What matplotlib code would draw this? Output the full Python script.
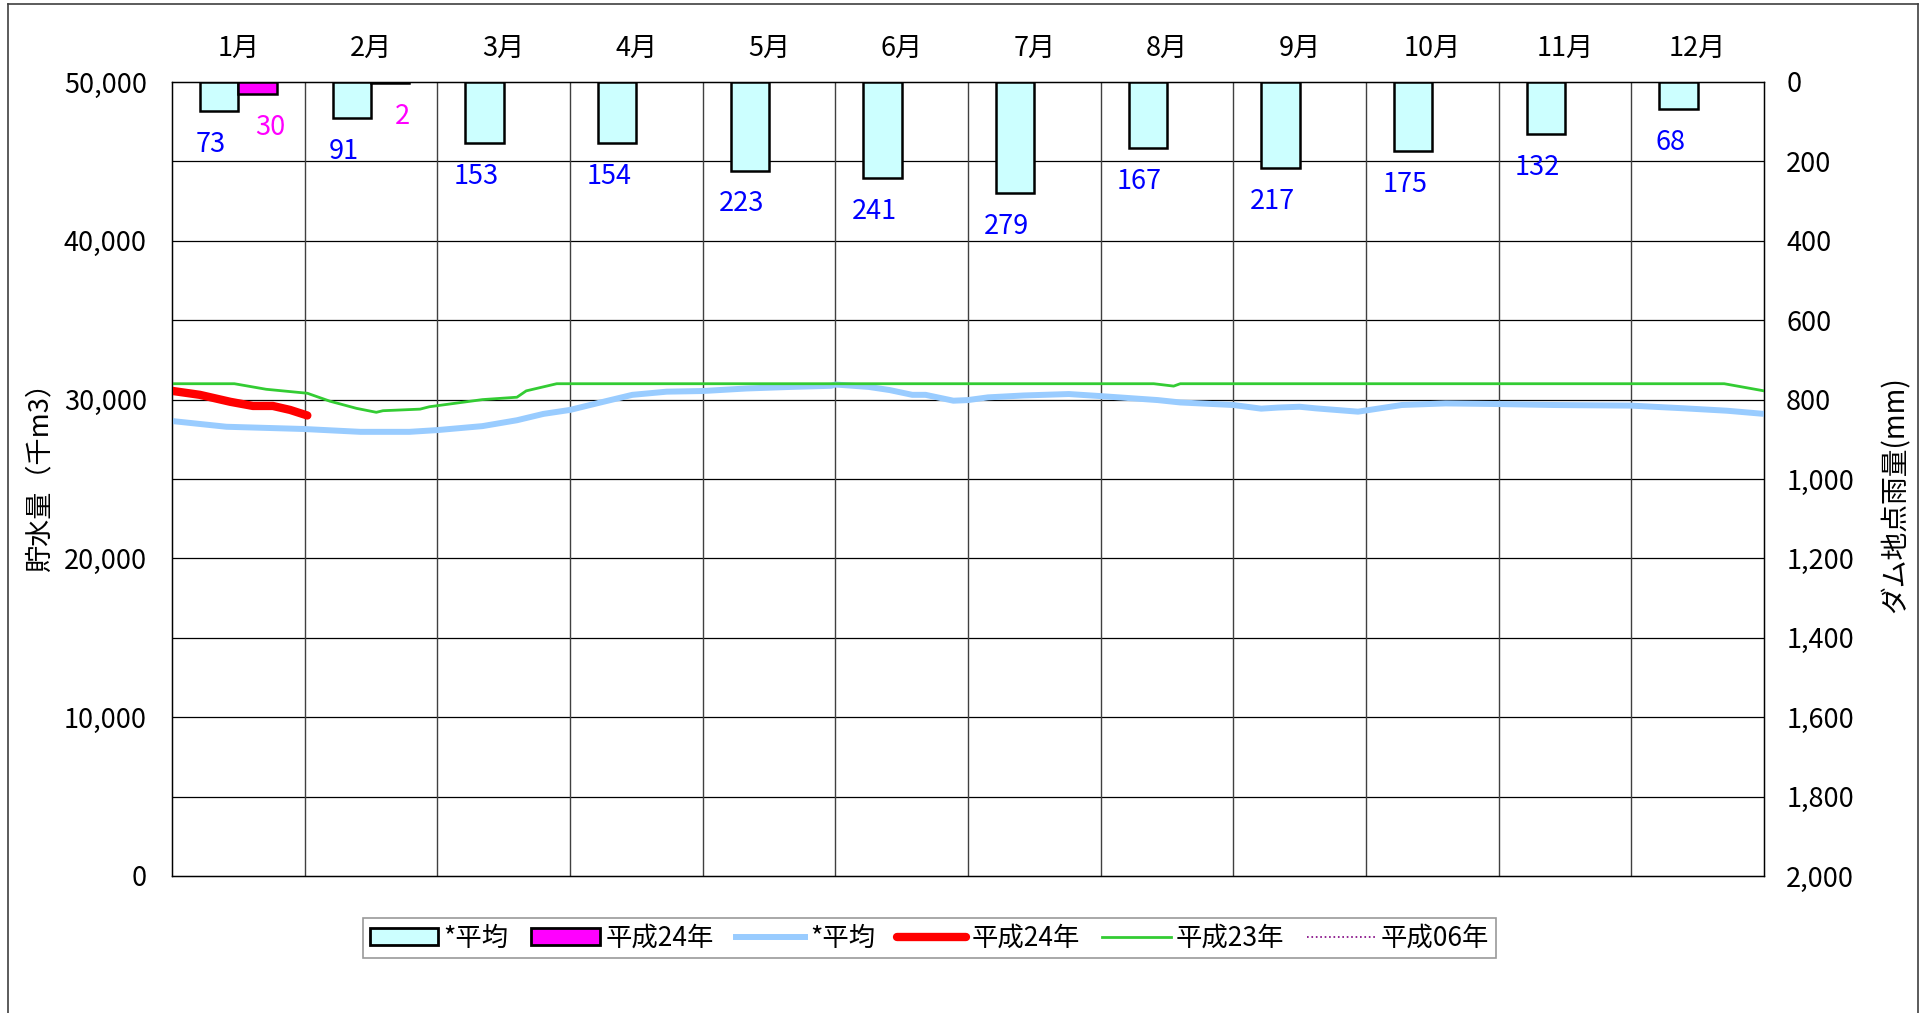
import matplotlib
matplotlib.use("Agg")
import matplotlib.pyplot as plt
from matplotlib.lines import Line2D
from matplotlib.patches import Patch
from matplotlib.ticker import FuncFormatter, MultipleLocator

plt.rcParams['font.family'] = ['Noto Sans CJK JP', 'DejaVu Sans']

# ---------------- data ----------------
months = ["1月", "2月", "3月", "4月", "5月", "6月", "7月", "8月", "9月", "10月", "11月", "12月"]
rain_avg = [73, 91, 153, 154, 223, 241, 279, 167, 217, 175, 132, 68]
rain_h24 = [30, 2]

# storage (thousand m3) ; x in month units (0 = Jan 1, 12 = Dec 31)
avg_x = [0.0, 0.41, 0.99, 1.42, 1.79, 2.0, 2.34, 2.6, 2.8, 3.0, 3.25, 3.47, 3.73, 4.0,
         4.33, 4.67, 4.97, 5.0, 5.25, 5.41, 5.58, 5.68, 5.89, 6.0, 6.15, 6.42, 6.76, 7.0,
         7.43, 7.6, 8.0, 8.21, 8.34, 8.5, 8.62, 8.94, 9.27, 9.6, 10.0, 10.41, 11.0, 11.4,
         11.72, 12.0]
avg_y = [28650, 28290, 28150, 27970, 27970, 28080, 28330, 28700, 29100, 29350, 29860, 30300,
         30500, 30540, 30700, 30800, 30870, 30950, 30800, 30600, 30300, 30300, 29930, 29970,
         30140, 30260, 30350, 30220, 29970, 29820, 29660, 29430, 29500, 29550, 29450, 29240,
         29660, 29760, 29720, 29660, 29620, 29450, 29300, 29100]

h23_x = [0.0, 0.47, 0.71, 1.02, 1.19, 1.39, 1.54, 1.59, 1.87, 1.94, 2.34, 2.6, 2.67, 2.9,
         7.4, 7.55, 7.6, 11.7, 12.0]
h23_y = [31000, 31000, 30650, 30400, 29900, 29450, 29200, 29300, 29400, 29550, 30000, 30150,
         30550, 31000, 31000, 30850, 31000, 31000, 30550]

h24_x = [0.0, 0.21, 0.44, 0.61, 0.76, 0.89, 1.02]
h24_y = [30550, 30300, 29860, 29600, 29600, 29350, 29000]

legend_labels = ["*平均", "平成24年", "*平均", "平成24年", "平成23年", "平成06年"]

FS = 19.5

# ---------------- figure ----------------
W, H = 1930, 1013
fig = plt.figure(figsize=(W / 100, H / 100), dpi=100)
L, R, T, B = 172, 1764, 82, 876
ax1 = fig.add_axes([L / W, 1 - B / H, (R - L) / W, (B - T) / H])
ax1.set_xlim(0, 12)
ax1.set_ylim(0, 50000)
ax1.set_xticks([])
ax1.yaxis.set_major_locator(MultipleLocator(10000))
ax1.yaxis.set_major_formatter(FuncFormatter(lambda v, p: f"{int(v):,}"))
ax1.tick_params(axis='y', length=0, pad=18, labelsize=FS)

for yv in range(5000, 50000, 5000):
    ax1.axhline(yv, color='black', lw=0.9, zorder=0.5)
for xv in range(1, 12):
    ax1.axvline(xv, color='#404040', lw=1.0, zorder=0.5)

ax1.plot(avg_x, avg_y, color='#99CCFF', lw=4.3, solid_capstyle='butt', zorder=3)
ax1.plot(h23_x, h23_y, color='#33CC33', lw=2.0, zorder=3)
ax1.plot(h24_x, h24_y, color='#FF0000', lw=6.0, solid_capstyle='round', zorder=4)

for sp in ax1.spines.values():
    sp.set_color('black')
    sp.set_linewidth(1.0)

ax2 = ax1.twinx()
ax2.set_ylim(2000, 0)
ax2.yaxis.set_major_locator(MultipleLocator(200))
ax2.yaxis.set_major_formatter(FuncFormatter(lambda v, p: f"{int(v):,}"))
ax2.tick_params(axis='y', length=0, pad=16, labelsize=FS)

bw = 0.29
xc = [i + 0.5 for i in range(12)]
bars_avg = ax2.bar([x - bw / 2 for x in xc], rain_avg, width=bw, color='#CCFFFF',
                   edgecolor='black', linewidth=1.8, zorder=3)
bars_h24 = ax2.bar([x + bw / 2 for x in xc[:len(rain_h24)]], rain_h24, width=bw,
                   color='#FF00FF', edgecolor='black', linewidth=1.8, zorder=3)

for rect, v in zip(bars_avg, rain_avg):
    ax2.annotate(f"{v}", xy=(rect.get_x() + rect.get_width() / 2, v),
                 xytext=(-6, -24), textcoords='offset points', ha='center', va='center',
                 color='#0000FF', fontsize=FS)
for rect, v in zip(bars_h24, rain_h24):
    ax2.annotate(f"{v}", xy=(rect.get_x() + rect.get_width() / 2, v),
                 xytext=(9, -24), textcoords='offset points', ha='center', va='center',
                 color='#FF00FF', fontsize=FS)

for i, m in enumerate(months):
    ax1.annotate(m, xy=(xc[i], 1), xycoords=('data', 'axes fraction'),
                 xytext=(0, 24), textcoords='offset points', ha='center', va='center',
                 fontsize=FS)

fig.text(40 / W, 1 - 470 / H, "貯水量（千m3）", rotation=90, ha='center', va='center', fontsize=FS)
fig.text(1896 / W, 1 - 495 / H, "ダム地点雨量(mm)", rotation=90, ha='center', va='center',
         fontsize=FS + 0.5)

handles = [
    Patch(facecolor='#CCFFFF', edgecolor='black', linewidth=2),
    Patch(facecolor='#FF00FF', edgecolor='black', linewidth=2),
    Line2D([], [], color='#99CCFF', lw=4.3),
    Line2D([], [], color='#FF0000', lw=6.0, solid_capstyle='round'),
    Line2D([], [], color='#33CC33', lw=2.0),
    Line2D([], [], color='#800080', lw=1.2, linestyle=':'),
]
leg = fig.legend(handles, legend_labels, loc='center', bbox_to_anchor=(929.5 / W, 1 - 938 / H),
                 ncol=6, fontsize=19, frameon=True, fancybox=False, edgecolor='#808080',
                 handlelength=2.6, handleheight=0.6, handletextpad=0.2, columnspacing=0.85,
                 borderpad=0.25, borderaxespad=0)
leg.get_frame().set_linewidth(1.2)

# outer frame
for (x0, y0, x1, y1) in [(8, 4, 8, H), (8, 4, 1918, 4), (1918, 4, 1918, H)]:
    fig.add_artist(Line2D([x0 / W, x1 / W], [1 - y0 / H, 1 - y1 / H], color='#404040', lw=1.2,
                          transform=fig.transFigure))

fig.savefig("out.png", dpi=100)
